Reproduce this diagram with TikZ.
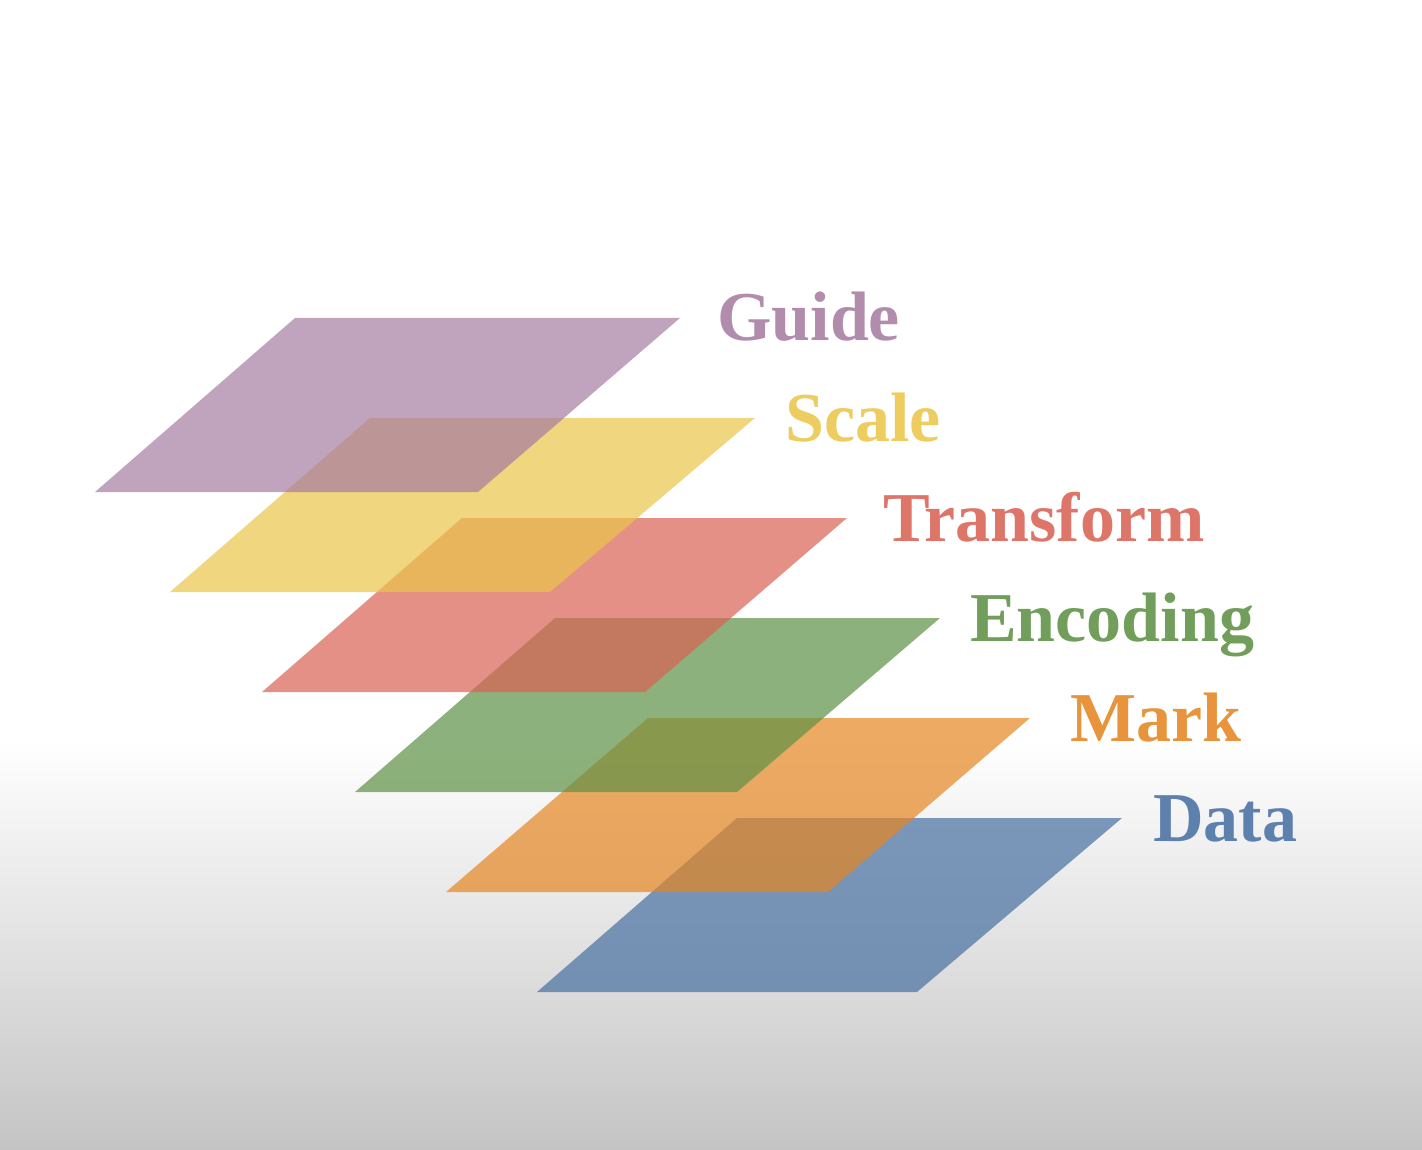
\documentclass[tikz,border=0pt]{standalone}
\usepackage{fontspec}
\setmainfont{Liberation Serif}
\begin{document}
\definecolor{guidec}{RGB}{166,124,162}
\definecolor{scalec}{RGB}{234,197,74}
\definecolor{transc}{RGB}{218,98,85}
\definecolor{encc}{RGB}{94,145,69}
\definecolor{markc}{RGB}{228,134,34}
\definecolor{datac}{RGB}{71,111,161}
\definecolor{floorc}{RGB}{196,196,196}
\begin{tikzpicture}[x=1pt,y=-1pt,
  plane/.style={fill=#1,fill opacity=0.7,draw=none},
  layerlabel/.style={anchor=base west,inner sep=0pt,text=#1!88!white,
    font=\fontsize{70}{70}\selectfont\bfseries}]
  % backdrop: white above, fading to grey toward the floor
  \fill[white] (0,0) rectangle (1422,1150);
  \shade[top color=white,bottom color=floorc] (0,740) rectangle (1422,1150);
  \useasboundingbox (0,0) rectangle (1422,1150);

  % stacked planes, lowest first so upper planes lie on top
  \fill[plane=datac]  (737,818) -- (1122,818) -- (917,992) -- (537,992) -- cycle;
  \fill[plane=markc]  (648,718) -- (1030,718) -- (828,892) -- (446,892) -- cycle;
  \fill[plane=encc]   (555,618) -- (940,618) -- (737,792) -- (355,792) -- cycle;
  \fill[plane=transc] (462,518) -- (847,518) -- (645,692) -- (262,692) -- cycle;
  \fill[plane=scalec] (370,418) -- (755,418) -- (550,592) -- (170,592) -- cycle;
  \fill[plane=guidec] (295,318) -- (680,318) -- (478,492) -- (95,492) -- cycle;

  % labels
  \node[layerlabel=guidec] (guide) at (717,341) {Guide};
  \node[layerlabel=scalec] (scale) at (785,441) {Scale};
  \node[layerlabel=transc] (transform) at (883,541) {Transform};
  \node[layerlabel=encc]   (encoding) at (970,641) {Encoding};
  \node[layerlabel=markc]  (mark) at (1070,741) {Mark};
  \node[layerlabel=datac]  (data) at (1153,841) {Data};
\end{tikzpicture}
\end{document}
